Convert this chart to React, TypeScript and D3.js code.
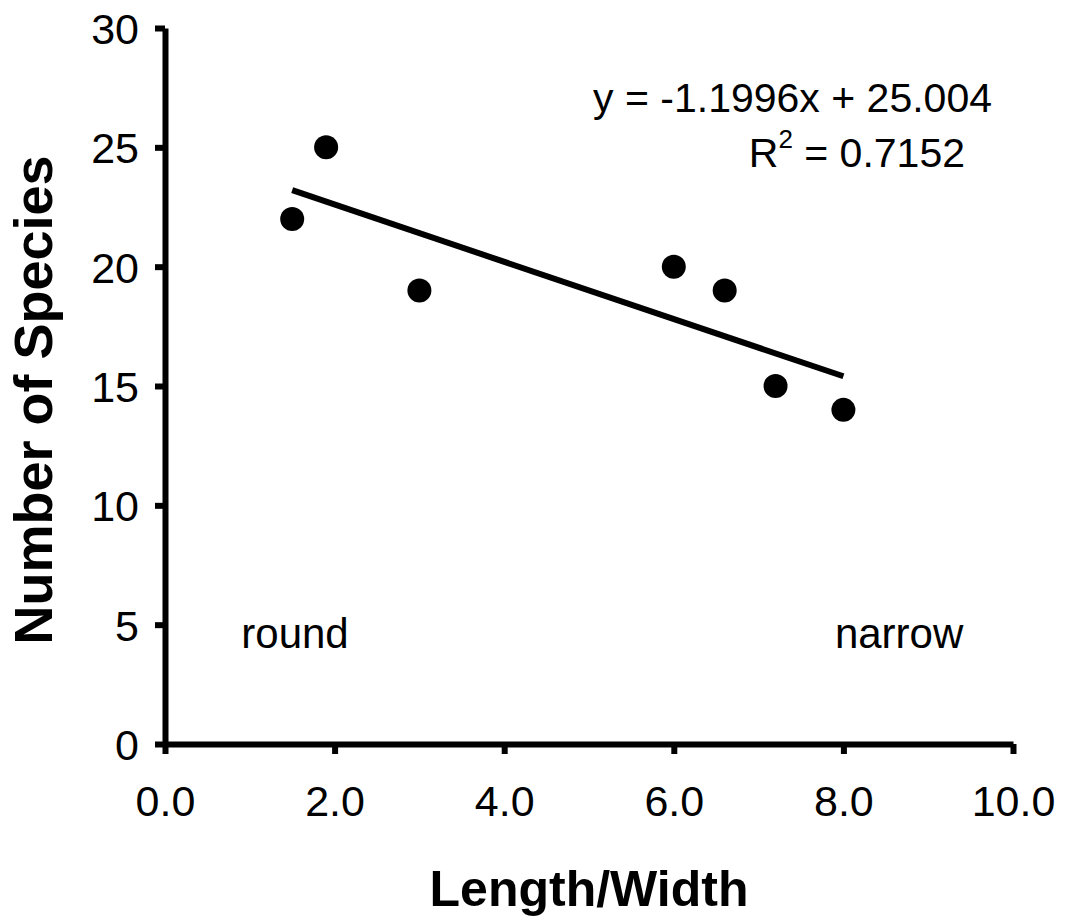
import React, { useEffect, useRef } from 'react';
import * as d3 from 'd3';

// leaf shape (length/width ratio) vs. number of species
const lengthWidth = [1.5, 1.9, 3.0, 6.0, 6.6, 7.2, 8.0];
const species = [22, 25, 19, 20, 19, 15, 14];

const xTicks = [0, 2, 4, 6, 8, 10];
const yTicks = [0, 5, 10, 15, 20, 25, 30];

const slope = -1.1996;
const intercept = 25.004;
const equationText = 'y = -1.1996x + 25.004';
const rSquaredText = ' = 0.7152';

const shapeLabels = [
  { text: 'round', x: 0.9 },
  { text: 'narrow', x: 7.9 }
];

const width = 1066;
const height = 920;
const font = '"Liberation Sans", Arial, sans-serif';

export default function App() {
  const ref = useRef<SVGSVGElement | null>(null);

  useEffect(() => {
    drawChart();
  }, []);

  function drawChart() {
    const svg = d3.select(ref.current);
    svg.selectAll('*').remove();

    const x = d3.scaleLinear().domain([0, 10]).range([165, 1013]);
    const y = d3.scaleLinear().domain([0, 30]).range([744, 28]);

    // y axis
    const yAxis = svg
      .append('g')
      .attr('transform', `translate(${x(0)},0)`)
      .call(d3.axisLeft(y).tickValues(yTicks).tickSize(10).tickPadding(16).tickSizeOuter(0));
    yAxis.select('.domain').attr('stroke', '#000').attr('stroke-width', 6);
    yAxis.selectAll('.tick line').attr('stroke', '#000').attr('stroke-width', 6);
    yAxis
      .selectAll('.tick text')
      .attr('fill', '#000')
      .style('font-family', font)
      .style('font-size', '43px')
      .attr('dy', '0.36em');

    // x axis
    const xAxis = svg
      .append('g')
      .attr('transform', `translate(0,${y(0)})`)
      .call(
        d3
          .axisBottom(x)
          .tickValues(xTicks)
          .tickSize(10)
          .tickPadding(40)
          .tickSizeOuter(0)
          .tickFormat(d3.format('.1f'))
      );
    xAxis.select('.domain').attr('stroke', '#000').attr('stroke-width', 6);
    xAxis.selectAll('.tick line').attr('stroke', '#000').attr('stroke-width', 6);
    xAxis
      .selectAll('.tick text')
      .attr('fill', '#000')
      .style('font-family', font)
      .style('font-size', '43px')
      .attr('dy', '0.5em');

    // regression line over the range of the data
    const [x0, x1] = d3.extent(lengthWidth) as [number, number];
    svg
      .append('line')
      .attr('x1', x(x0))
      .attr('y1', y(slope * x0 + intercept))
      .attr('x2', x(x1))
      .attr('y2', y(slope * x1 + intercept))
      .attr('stroke', '#000')
      .attr('stroke-width', 6);

    // points
    svg
      .selectAll('circle')
      .data(d3.zip(lengthWidth, species))
      .enter()
      .append('circle')
      .attr('cx', d => x(d[0]))
      .attr('cy', d => y(d[1]))
      .attr('r', 12)
      .attr('fill', '#000');

    // equation
    svg
      .append('text')
      .attr('x', 992)
      .attr('y', 112)
      .attr('text-anchor', 'end')
      .style('font-family', font)
      .style('font-size', '41px')
      .text(equationText);

    const r2 = svg
      .append('text')
      .attr('x', 965)
      .attr('y', 167)
      .attr('text-anchor', 'end')
      .style('font-family', font)
      .style('font-size', '41px');
    r2.append('tspan').text('R');
    r2.append('tspan').attr('dy', -19).style('font-size', '26px').text('2');
    r2.append('tspan').attr('dy', 19).text(rSquaredText);

    // round / narrow
    svg
      .selectAll('.shape-label')
      .data(shapeLabels)
      .enter()
      .append('text')
      .attr('class', 'shape-label')
      .attr('x', d => x(d.x))
      .attr('y', 648)
      .style('font-family', font)
      .style('font-size', '42px')
      .text(d => d.text);

    // axis titles
    svg
      .append('text')
      .attr('x', (x(0) + x(10)) / 2)
      .attr('y', 906)
      .attr('text-anchor', 'middle')
      .style('font-family', font)
      .style('font-size', '50px')
      .style('font-weight', 'bold')
      .text('Length/Width');

    svg
      .append('text')
      .attr('transform', `translate(52,400) rotate(-90)`)
      .attr('text-anchor', 'middle')
      .style('font-family', font)
      .style('font-size', '54px')
      .style('font-weight', 'bold')
      .text('Number of Species');
  }

  return (
    <svg
      ref={ref}
      width={width}
      height={height}
      style={{ position: 'absolute', left: 0, top: 0, background: '#fff' }}
    />
  );
}
